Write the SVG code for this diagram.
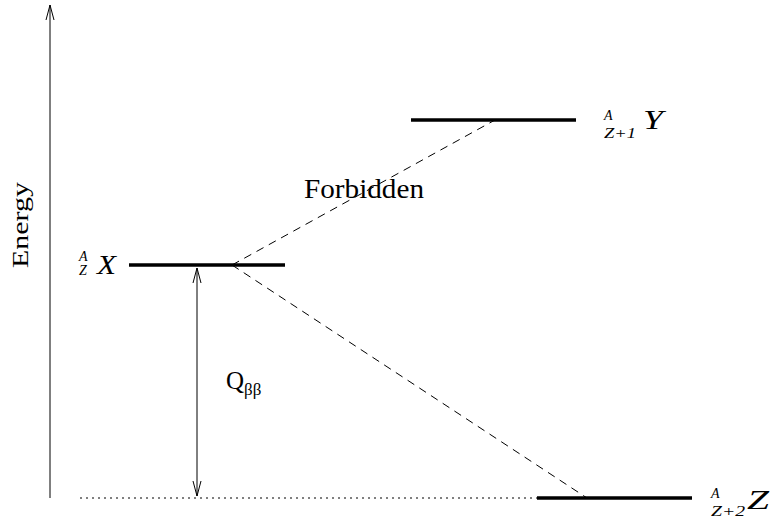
<svg xmlns="http://www.w3.org/2000/svg" width="772" height="526" viewBox="0 0 772 526">
<style>
text{font-family:"Liberation Serif","Times New Roman","DejaVu Serif",serif;fill:#000}
.i{font-style:italic}
.lvl{stroke:#000;stroke-width:3.5}
.dash{stroke:#000;stroke-width:1;stroke-dasharray:8,6;fill:none}
.thin{stroke:#000;stroke-width:1;fill:none}
</style>
<defs>
<marker id="open" viewBox="0 0 15 10" refX="15" refY="5" markerWidth="15" markerHeight="10" markerUnits="userSpaceOnUse" orient="auto-start-reverse">
<path d="M0,1 L15,5 L0,9" fill="none" stroke="#000" stroke-width="1"/>
</marker>
</defs>
<g id="axis">
<line class="thin" x1="50" y1="498" x2="50" y2="5" marker-end="url(#open)"/>
<text font-size="24" transform="translate(28,225) rotate(-90)" text-anchor="middle" textLength="86" lengthAdjust="spacingAndGlyphs">Energy</text>
</g>
<g id="connectors">
<line class="dash" x1="232" y1="265" x2="495" y2="120"/>
<line class="dash" x1="232" y1="265" x2="587" y2="498"/>
<line class="thin" x1="80" y1="498" x2="537" y2="498" stroke-dasharray="2,4"/>
<line class="thin" x1="197" y1="268" x2="197" y2="496" marker-start="url(#open)" marker-end="url(#open)"/>
</g>
<g id="X">
<line class="lvl" x1="129" y1="265" x2="285" y2="265"/>
<text class="i" font-size="14" x="79" y="261">A</text>
<text class="i" font-size="14" x="79" y="275">Z</text>
<text class="i" font-size="27" x="97" y="274" textLength="19" lengthAdjust="spacingAndGlyphs">X</text>
</g>
<g id="Y">
<line class="lvl" x1="411" y1="120" x2="576" y2="120"/>
<text class="i" font-size="14" x="604" y="120">A</text>
<text class="i" font-size="14" x="604" y="138" textLength="32" lengthAdjust="spacingAndGlyphs">Z+1</text>
<text class="i" font-size="27" x="643" y="129" textLength="20" lengthAdjust="spacingAndGlyphs">Y</text>
</g>
<g id="Z">
<line class="lvl" x1="537" y1="498" x2="692" y2="498"/>
<text class="i" font-size="14" x="711" y="498">A</text>
<text class="i" font-size="14" x="711" y="516" textLength="34" lengthAdjust="spacingAndGlyphs">Z+2</text>
<text class="i" font-size="27" x="747" y="509" textLength="22" lengthAdjust="spacingAndGlyphs">Z</text>
</g>
<g id="labels">
<text font-size="27" x="304" y="198" textLength="120" lengthAdjust="spacingAndGlyphs">Forbidden</text>
<text font-size="25" x="226" y="389">Q<tspan font-size="17" dy="6">ββ</tspan></text>
</g>
</svg>
